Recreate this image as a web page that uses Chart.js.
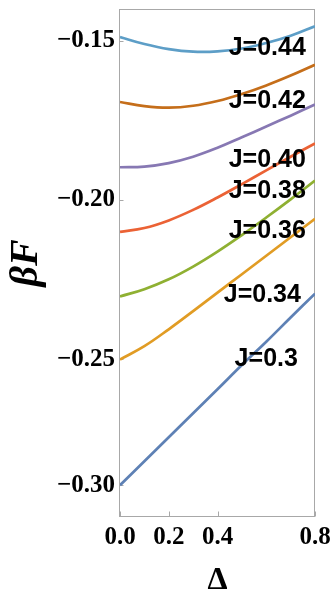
<!DOCTYPE html>
<html>
<head>
<meta charset="utf-8">
<script src="https://cdn.jsdelivr.net/npm/chart.js@4.4.1/dist/chart.umd.min.js"></script>
<style>
  html, body { margin: 0; padding: 0; background: #ffffff; }
  #c { display: block; }
</style>
</head>
<body>
<canvas id="c" width="333" height="595"></canvas>
<script>
// Anisotropy parameter Δ sampled along each free-energy curve
const deltaValues = [0, 0.1, 0.2, 0.3, 0.4, 0.5, 0.6, 0.7, 0.8];

// Free energy per site βF for each coupling J
const fJ030 = [-0.2999, -0.2904, -0.2809, -0.2714, -0.2619, -0.2523, -0.2445, -0.2369, -0.2294];
const fJ034 = [-0.2501, -0.2459, -0.2406, -0.2349, -0.2291, -0.2233, -0.2175, -0.2117, -0.2059];
const fJ036 = [-0.2303, -0.2280, -0.2249, -0.2209, -0.2162, -0.2110, -0.2055, -0.1998, -0.1939];
const fJ038 = [-0.2100, -0.2088, -0.2064, -0.2031, -0.1992, -0.1950, -0.1907, -0.1864, -0.1822];
const fJ040 = [-0.1897, -0.1895, -0.1884, -0.1864, -0.1836, -0.1803, -0.1769, -0.1735, -0.1700];
const fJ042 = [-0.1692, -0.1705, -0.1710, -0.1704, -0.1689, -0.1667, -0.1640, -0.1609, -0.1575];
const fJ044 = [-0.1488, -0.1510, -0.1526, -0.1534, -0.1533, -0.1524, -0.1507, -0.1484, -0.1454];

// Curve labels and where they sit, in (Δ, βF) coordinates
const curveLabels  = ['J=0.3', 'J=0.34', 'J=0.36', 'J=0.38', 'J=0.40', 'J=0.42', 'J=0.44'];
const labelDelta   = [0.600, 0.584, 0.604, 0.604, 0.604, 0.604, 0.604];
const labelBetaF   = [-0.2500, -0.2300, -0.2098, -0.1973, -0.1876, -0.1688, -0.1523];

// Axis ticks
const xTickValues = [0, 0.2, 0.4, 0.8];
const xTickLabels = ['0.0', '0.2', '0.4', '0.8'];
const yTickValues = [-0.30, -0.25, -0.20, -0.15];
const yTickLabels = ['\u22120.30', '\u22120.25', '\u22120.20', '\u22120.15'];

const series = [fJ030, fJ034, fJ036, fJ038, fJ040, fJ042, fJ044];
const colors = ['#5E81B5', '#E19C24', '#8FB032', '#EB6235', '#8778B3', '#C56E1A', '#5D9EC7'];

// A piecewise-linear value axis: the band below yBreak is drawn at a
// reduced density relative to the band above it.
const yBreak = -0.25;
const yLowerWeight = 0.793;

class BrokenLinearScale extends Chart.LinearScale {
  _unit(v) {
    const lo = this.min;
    if (v <= yBreak) return (v - lo) * yLowerWeight;
    return (yBreak - lo) * yLowerWeight + (v - yBreak);
  }
  getPixelForValue(value) {
    if (value === null || value === undefined) return NaN;
    return this.getPixelForDecimal(this._unit(value) / this._unit(this.max));
  }
  getValueForPixel(pixel) {
    const u = this.getDecimalForPixel(pixel) * this._unit(this.max);
    const uBreak = this._unit(yBreak);
    if (u <= uBreak) return this.min + u / yLowerWeight;
    return yBreak + (u - uBreak);
  }
}
BrokenLinearScale.id = 'brokenLinear';
BrokenLinearScale.defaults = Chart.LinearScale.defaults;
Chart.register(BrokenLinearScale);

// Frame around the plot and short inward tick marks
const frameAndTicks = {
  id: 'frameAndTicks',
  beforeDatasetsDraw(chart) {
    const { ctx, chartArea: a, scales: { x, y } } = chart;
    const L = Math.round(a.left) - 0.5;
    const R = Math.round(a.right) - 0.5;
    const T = Math.round(a.top) + 0.5;
    const B = Math.round(a.bottom) - 0.5;
    ctx.save();
    ctx.strokeStyle = '#a8a8a8';
    ctx.lineWidth = 1;
    ctx.strokeRect(L, T, R - L, B - T);
    ctx.beginPath();
    y.ticks.forEach(t => {
      const py = Math.round(y.getPixelForValue(t.value)) + 0.5;
      ctx.moveTo(L, py); ctx.lineTo(L + 4, py);
    });
    x.ticks.forEach(t => {
      const px = Math.round(x.getPixelForValue(t.value)) + 0.5;
      ctx.moveTo(px, B); ctx.lineTo(px, B - 5);
    });
    ctx.stroke();
    ctx.restore();
  }
};

// Text labels naming each curve
const curveNames = {
  id: 'curveNames',
  afterDatasetsDraw(chart) {
    const { ctx, scales: { x, y } } = chart;
    ctx.save();
    ctx.font = 'bold 25px "Liberation Sans", Arial, sans-serif';
    ctx.fillStyle = '#000000';
    ctx.textAlign = 'center';
    ctx.textBaseline = 'middle';
    curveLabels.forEach((txt, i) => {
      ctx.fillText(txt, x.getPixelForValue(labelDelta[i]), y.getPixelForValue(labelBetaF[i]));
    });
    ctx.restore();
  }
};

const datasets = series.map((vals, i) => ({
  label: curveLabels[i],
  data: deltaValues.map((d, k) => ({ x: d, y: vals[k] })),
  borderColor: colors[i],
  borderWidth: 2.7,
  pointRadius: 0,
  fill: false,
  tension: 0.4
}));

const tickFont = { family: '"Liberation Serif", "Times New Roman", serif', size: 25, weight: 'bold' };

new Chart(document.getElementById('c'), {
  type: 'line',
  data: { datasets },
  options: {
    responsive: false,
    animation: false,
    events: [],
    layout: { padding: { top: 9, right: 18, left: 0, bottom: 0 } },
    plugins: { legend: { display: false }, tooltip: { enabled: false } },
    scales: {
      x: {
        type: 'linear',
        min: 0,
        max: 0.8,
        grid: { display: false, drawTicks: false },
        border: { display: false },
        afterBuildTicks(scale) { scale.ticks = xTickValues.map(v => ({ value: v })); },
        afterFit(scale) { scale.height = 78; scale.paddingLeft = 0; scale.paddingRight = 0; },
        ticks: {
          color: '#000000',
          font: tickFont,
          padding: 6,
          maxRotation: 0,
          autoSkip: false,
          callback: (v, i) => xTickLabels[i]
        },
        title: {
          display: true,
          text: '\u0394',
          color: '#000000',
          font: { family: '"Liberation Serif", "Times New Roman", serif', size: 32, weight: 'bold', lineHeight: 1 },
          padding: { top: 0, bottom: -2 }
        }
      },
      y: {
        type: 'brokenLinear',
        min: -0.3125,
        max: -0.14,
        grid: { display: false, drawTicks: false },
        border: { display: false },
        afterBuildTicks(scale) { scale.ticks = yTickValues.map(v => ({ value: v })); },
        afterFit(scale) { scale.width = 120; scale.paddingTop = 0; scale.paddingBottom = 0; },
        ticks: {
          color: '#000000',
          font: tickFont,
          padding: 5,
          autoSkip: false,
          callback: (v, i) => yTickLabels[i]
        },
        title: {
          display: true,
          text: '\u03B2F',
          color: '#000000',
          font: { family: '"Liberation Serif", "Times New Roman", serif', size: 40, weight: 'bold', style: 'italic', lineHeight: 1 },
          padding: { top: 7, bottom: 0 }
        }
      }
    }
  },
  plugins: [frameAndTicks, curveNames]
});
</script>
</body>
</html>
